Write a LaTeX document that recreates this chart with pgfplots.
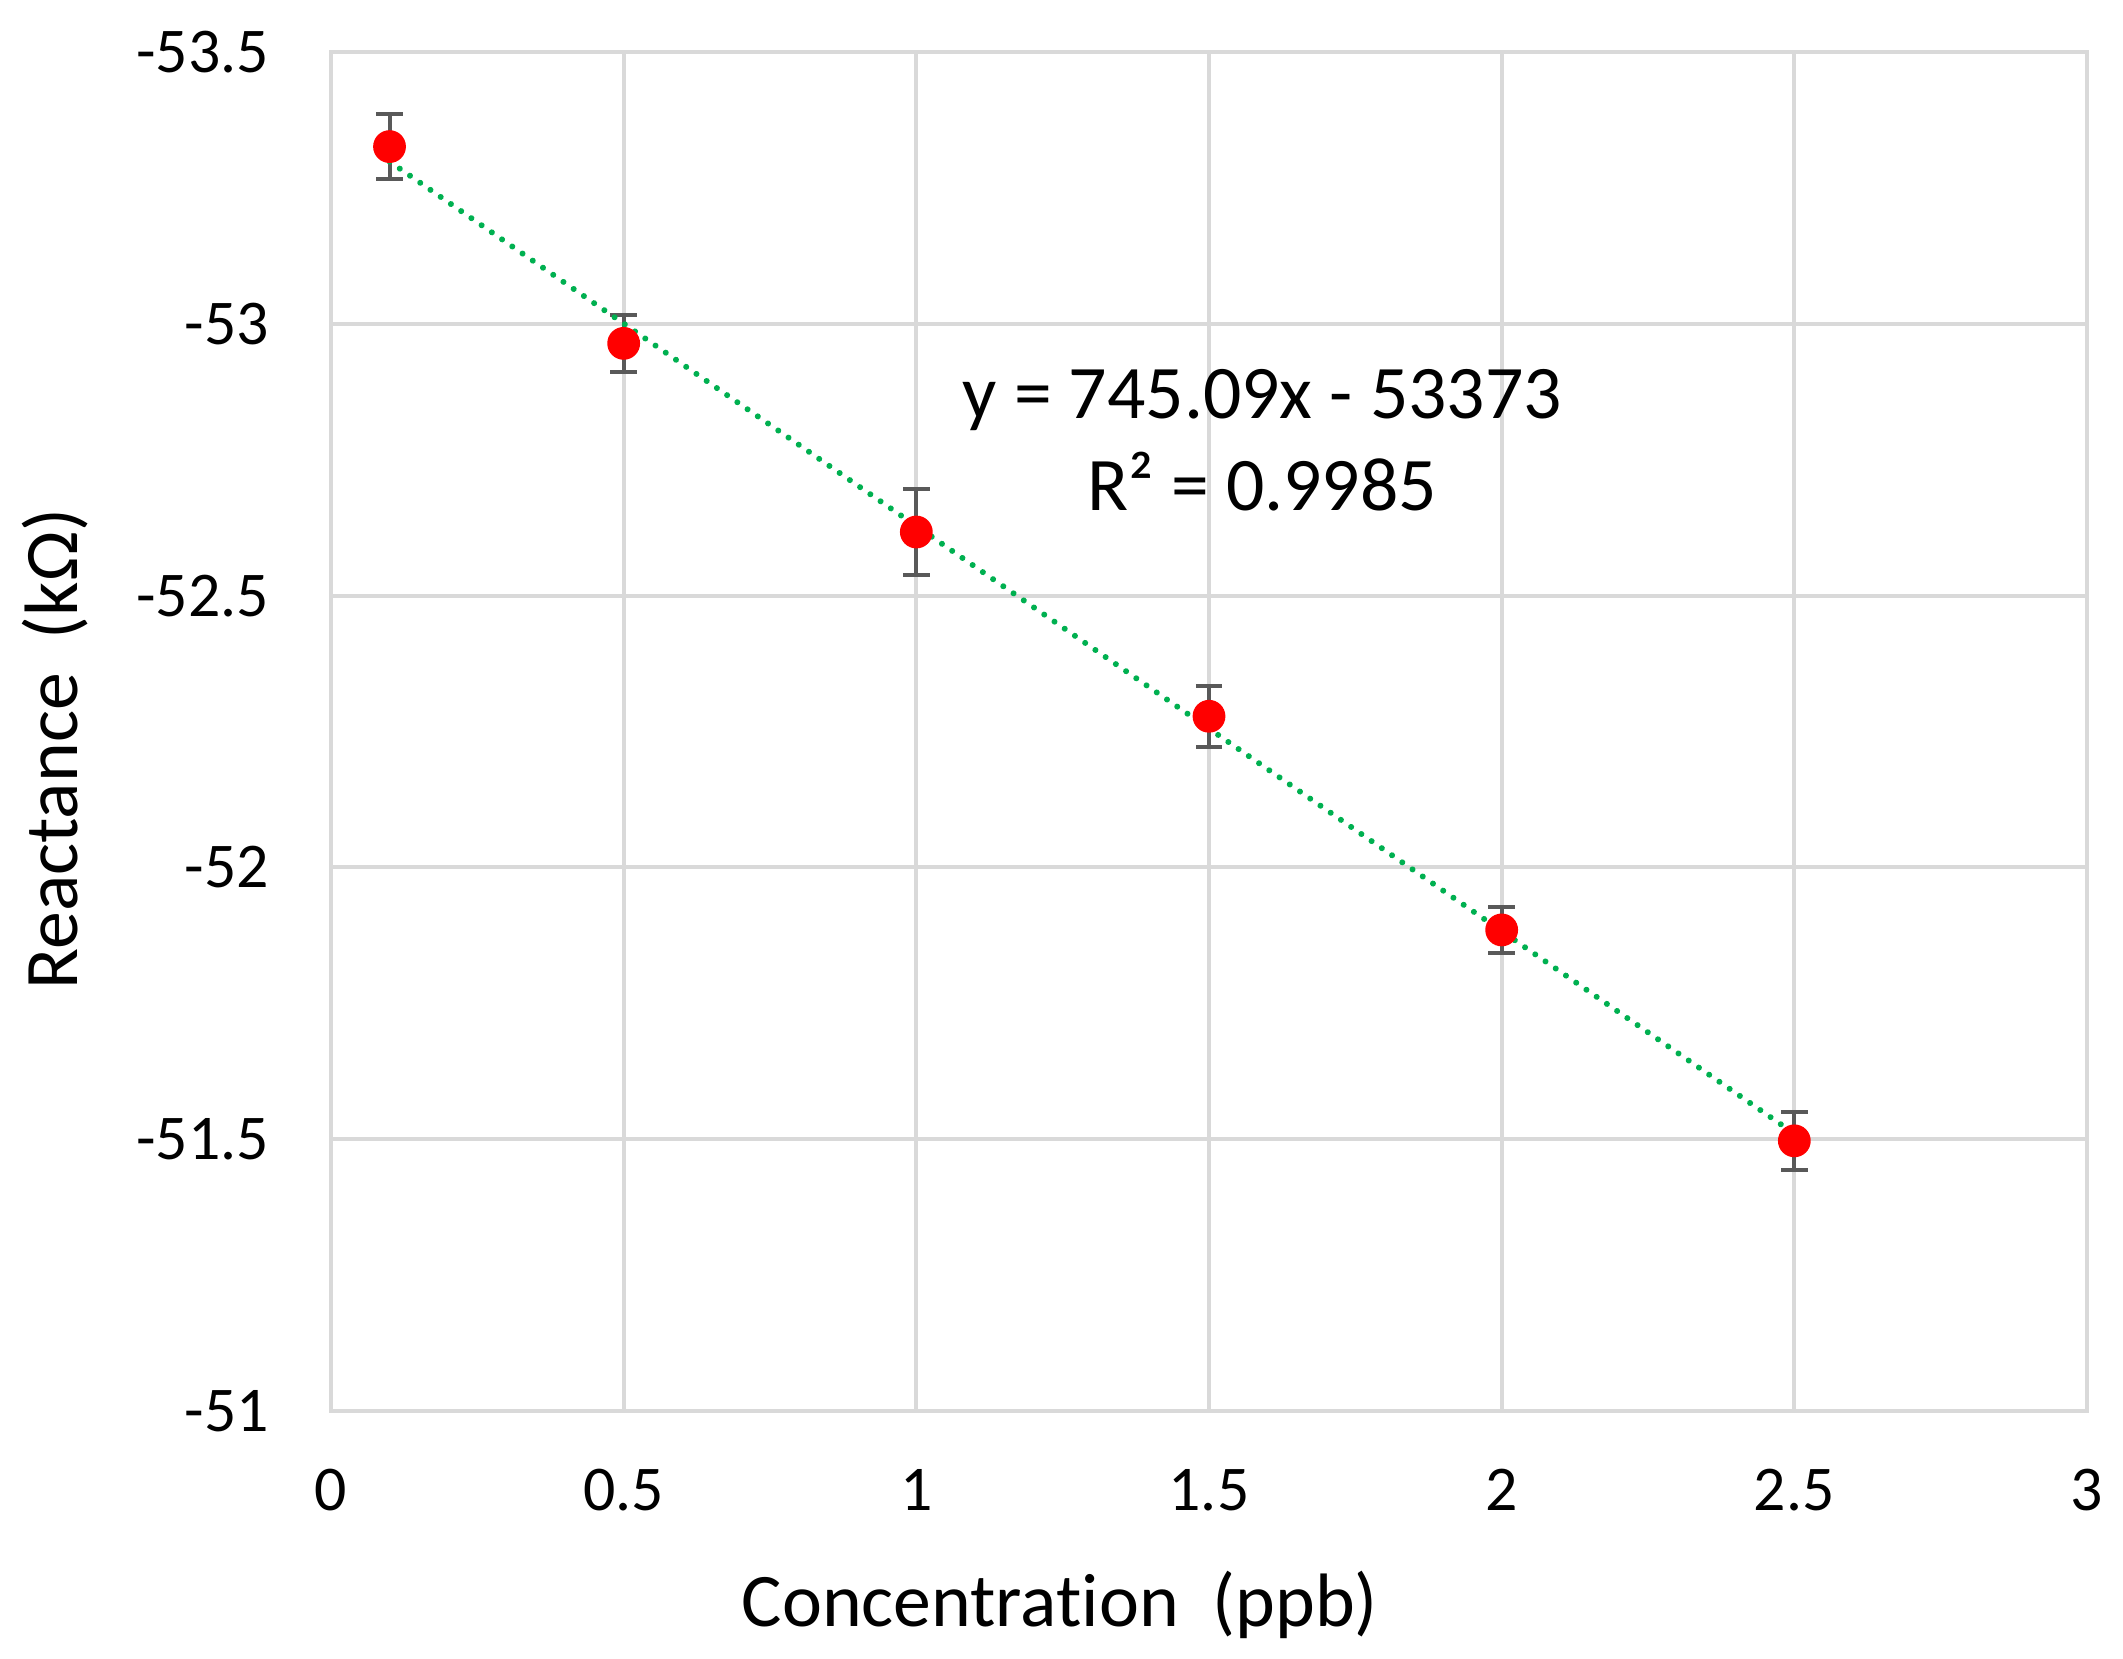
\documentclass[border=0pt]{standalone}
\usepackage{fontspec}
\setmainfont{Carlito}[Ligatures=NoCommon]
\usepackage{pgfplots}
\pgfplotsset{compat=1.18}
\definecolor{errgray}{HTML}{595959}
\definecolor{gridgray}{HTML}{D9D9D9}
\definecolor{trendgreen}{HTML}{00B050}
\pgfplotstableread{
x y err
0.1 -53.326 0.060
0.5 -52.964 0.053
1.0 -52.617 0.079
1.5 -52.278 0.056
2.0 -51.885 0.043
2.5 -51.497 0.053
}\datatable
\begin{document}
\begin{tikzpicture}
\path[use as bounding box] (-82.75bp,-62bp) rectangle (448bp,352.75bp);
\begin{axis}[name=ax, at={(0,0)}, anchor=south west, scale only axis,
  width=439bp, height=339.75bp,
  xmin=0, xmax=3, ymin=-53.5, ymax=-51, y dir=reverse,
  xtick={0,0.5,1,1.5,2,2.5,3},
  ytick={-53.5,-53,-52.5,-52,-51.5,-51},
  grid=major, grid style={draw=gridgray, line width=1bp},
  axis line style={draw=gridgray, line width=1bp},
  major tick length=0pt,
  tick label style={font=\fontsize{16}{19}\selectfont, text=black},
  /pgf/number format/assume math mode=true,
  xticklabel shift=11bp, yticklabel shift=12bp,
  clip=false]
\addplot[only marks, mark=*, mark size=3.9bp, mark options={fill=red, draw=red},
  error bars/.cd, y dir=both, y explicit,
  error bar style={draw=errgray, line width=1bp},
  error mark options={rotate=90, mark size=3.3bp, line width=1bp, draw=errgray}]
  table[x=x, y=y, y error=err] {\datatable};
\addplot[trendgreen, line width=1.5bp, dash pattern=on 0.01bp off 3.1bp, line cap=round]
  coordinates {(0.1,-53.2985) (2.5,-51.5103)};
\node[font=\fontsize{19}{23}\selectfont, align=center] at (axis cs:1.591,-52.786)
  {y = 745.09x - 53373\\R² = 0.9985};
\end{axis}
\node[font=\fontsize{19}{23}\selectfont] at ([xshift=182.25bp, yshift=-48.5bp]ax.south west) {Concentration\hspace{0.45em}(ppb)};
\node[font=\fontsize{19}{23}\selectfont, rotate=90] at ([xshift=-69bp, yshift=165.5bp]ax.south west) {Reactance\hspace{0.45em}(kΩ)};
\end{tikzpicture}
\end{document}
